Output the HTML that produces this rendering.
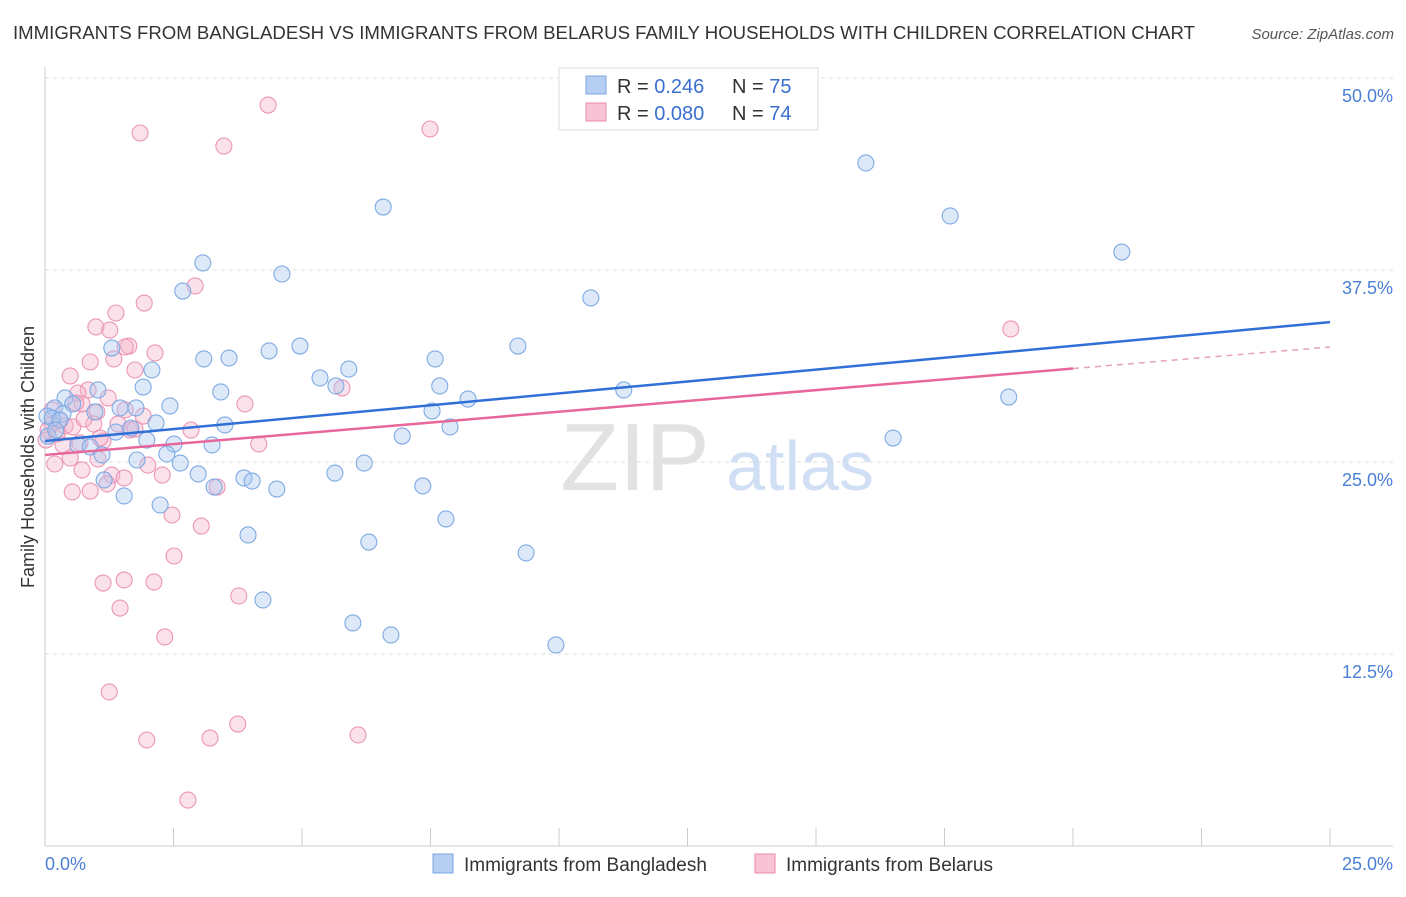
<!DOCTYPE html>
<html><head><meta charset="utf-8"><style>
body{margin:0;background:#fff;font-family:"Liberation Sans",sans-serif;}
svg text{font-family:"Liberation Sans",sans-serif;}
</style></head><body>
<svg id="chart" width="1406" height="892">
<text x="13" y="39" font-size="18" fill="#333" textLength="1182" lengthAdjust="spacingAndGlyphs">IMMIGRANTS FROM BANGLADESH VS IMMIGRANTS FROM BELARUS FAMILY HOUSEHOLDS WITH CHILDREN CORRELATION CHART</text>
<text x="1394" y="39" font-size="15" fill="#555" font-style="italic" text-anchor="end">Source: ZipAtlas.com</text>
<g id="grid"></g>
<g>
<text x="635" y="490" font-size="96" font-family="Liberation Serif,serif" fill="#e2e2e2" text-anchor="middle">ZIP</text>
<text x="800" y="490" font-size="70" fill="#d0dff4" text-anchor="middle">atlas</text>
</g>
<g id="points"></g>
<g id="lines"></g>
<text transform="translate(34,457) rotate(-90)" font-size="18" fill="#333" text-anchor="middle">Family Households with Children</text>
<text x="45" y="870" font-size="18" fill="#4a7fd4">0.0%</text>
<text x="1393" y="870" font-size="18" fill="#4a7fd4" text-anchor="end">25.0%</text>
<g>
<rect x="559" y="68" width="259" height="62" fill="#fff" stroke="#ddd"/>
<rect x="586" y="76" width="20" height="18" fill="#b5cff3" stroke="#7aa6e0"/>
<rect x="586" y="103" width="20" height="18" fill="#f8c3d5" stroke="#e88aab"/>
<text x="617" y="93" font-size="20" fill="#333">R = <tspan fill="#3a6fd0">0.246</tspan></text>
<text x="732" y="93" font-size="20" fill="#333">N = <tspan fill="#3a6fd0">75</tspan></text>
<text x="617" y="120" font-size="20" fill="#333">R = <tspan fill="#3a6fd0">0.080</tspan></text>
<text x="732" y="120" font-size="20" fill="#333">N = <tspan fill="#3a6fd0">74</tspan></text>
</g>
<g>
<rect x="433" y="854" width="20" height="19" fill="#b5cff3" stroke="#7aa6e0"/>
<text x="464" y="871" font-size="19" fill="#333">Immigrants from Bangladesh</text>
<rect x="755" y="854" width="20" height="19" fill="#f8c3d5" stroke="#e88aab"/>
<text x="786" y="871" font-size="19" fill="#333">Immigrants from Belarus</text>
</g>
</svg>
<script>
const yTicks=[12.5,25,37.5,50];
const yTickLabels=["12.5%","25.0%","37.5%","50.0%"];
const xTicks=[0,2.5,5,7.5,10,12.5,15,17.5,20,22.5,25];
const blueX=[15.97,17.61,20.95,6.58,3.07,4.61,2.68,10.62,9.20,4.96,4.36,3.58,3.09,7.59,5.91,2.08,5.35,5.66,7.68,3.42,1.91,1.03,11.26,8.23,18.75,1.30,0.39,0.54,0.19,0.35,0.97,1.46,1.77,2.43,7.53,0.04,0.14,0.29,3.50,2.16,7.88,1.67,1.38,6.95,16.50,1.98,0.64,0.88,2.51,3.25,1.11,2.37,1.79,2.63,6.21,2.98,5.64,3.87,4.03,1.15,7.35,4.51,3.29,1.54,2.24,7.80,3.95,6.30,9.36,4.24,5.99,6.73,9.94,0.06,0.21];
const blueY=[44.47,41.02,38.67,41.60,37.96,37.24,36.13,35.68,32.55,32.55,32.23,31.77,31.71,31.71,31.05,30.99,30.47,29.95,29.95,29.56,29.88,29.69,29.69,29.10,29.23,32.42,29.17,28.78,28.52,28.13,28.26,28.52,28.52,28.65,28.32,27.99,27.86,27.73,27.41,27.54,27.28,27.21,26.95,26.69,26.56,26.43,26.11,25.98,26.17,26.11,25.46,25.52,25.13,24.93,24.93,24.22,24.28,23.96,23.76,23.83,23.44,23.24,23.37,22.79,22.20,21.29,20.25,19.79,19.08,16.02,14.52,13.74,13.09,26.69,27.08];
const pinkX=[4.34,7.49,1.85,3.48,2.92,1.93,1.38,0.99,1.26,2.14,1.63,1.34,0.88,1.75,0.49,0.84,0.64,5.78,3.89,0.72,1.01,1.56,1.91,0.29,0.39,0.95,0.14,0.06,0.54,2.84,1.65,1.13,0.68,4.16,0.02,0.49,1.03,0.19,2.00,2.28,0.72,1.30,1.54,1.21,3.35,0.53,0.88,2.47,3.04,2.51,1.13,1.54,2.12,3.77,1.46,2.33,1.25,3.75,1.98,3.21,6.09,2.78,18.79,1.56,0.14,0.23,0.76,1.75,1.42,1.07,0.35,0.60,1.23];
const pinkY=[48.24,46.68,46.42,45.57,36.46,35.35,34.70,33.79,33.59,32.10,32.55,31.71,31.51,30.99,30.60,29.69,29.49,29.82,28.78,28.78,28.26,28.39,27.99,27.73,27.34,27.47,27.47,27.08,27.28,27.08,27.08,26.37,26.24,26.17,26.43,25.26,25.20,24.87,24.80,24.15,24.48,24.15,23.96,23.57,23.37,23.05,23.11,21.55,20.83,18.88,17.12,17.32,17.19,16.28,15.49,13.61,10.03,7.94,6.90,7.03,7.23,2.99,33.66,32.49,28.39,26.82,27.80,27.15,27.47,26.56,26.11,28.84,29.17];
const blueTrend=[26.37,34.11];
const pinkTrend=[25.46,32.49];
const pinkSolidEnd=20;
const NS="http://www.w3.org/2000/svg";
const xs=v=>45+v*51.4, ys=v=>846-v*15.36;
function mk(tag,attrs,parent){const e=document.createElementNS(NS,tag);for(const k in attrs)e.setAttribute(k,attrs[k]);parent.appendChild(e);return e;}
const grid=document.getElementById('grid');
yTicks.forEach((t,i)=>{
 const l=mk('line',{x1:45,x2:1393,y1:ys(t),y2:ys(t),stroke:'#ddd','stroke-dasharray':'4,4'},grid);
 
 
 const tx=mk('text',{x:1393,y:ys(t)+24,'font-size':18,fill:'#4a7fd4','text-anchor':'end'},grid);
 tx.textContent=yTickLabels[i];
 
 
});
const ax=mk('line',{x1:45,x2:1393,y1:846,y2:846,stroke:'#ccc'},grid);


const ay=mk('line',{x1:45,x2:45,y1:67,y2:846,stroke:'#ccc'},grid);


xTicks.forEach(t=>{
 const l=mk('line',{x1:xs(t),x2:xs(t),y1:828,y2:846,stroke:'#ccc'},grid);
 
 
});
const pts=document.getElementById('points');
function dots(X,Y,fill,stroke,name){X.forEach((x,i)=>{
 const c=mk('circle',{cx:xs(x),cy:ys(Y[i]),r:8,fill:fill,'fill-opacity':0.4,stroke:stroke,'stroke-width':1.1},pts);
 
 
});}
dots(pinkX,pinkY,'#f6b4cb','#ec95b5','belarus-point');
dots(blueX,blueY,'#aac8f0','#7eaae4','bangladesh-point');
const lg=document.getElementById('lines');
const bl=mk('line',{x1:xs(0),y1:ys(blueTrend[0]),x2:xs(25),y2:ys(blueTrend[1]),stroke:'#2f6fd6','stroke-width':2.5},lg);


const pAt=x=>pinkTrend[0]+(pinkTrend[1]-pinkTrend[0])*x/25;
const pl=mk('line',{x1:xs(0),y1:ys(pAt(0)),x2:xs(pinkSolidEnd),y2:ys(pAt(pinkSolidEnd)),stroke:'#e8679a','stroke-width':2.5},lg);


const pd=mk('line',{x1:xs(pinkSolidEnd),y1:ys(pAt(pinkSolidEnd)),x2:xs(25),y2:ys(pAt(25)),stroke:'#e8a0bd','stroke-width':1.5,'stroke-dasharray':'6,5'},lg);


</script>
</body></html>
